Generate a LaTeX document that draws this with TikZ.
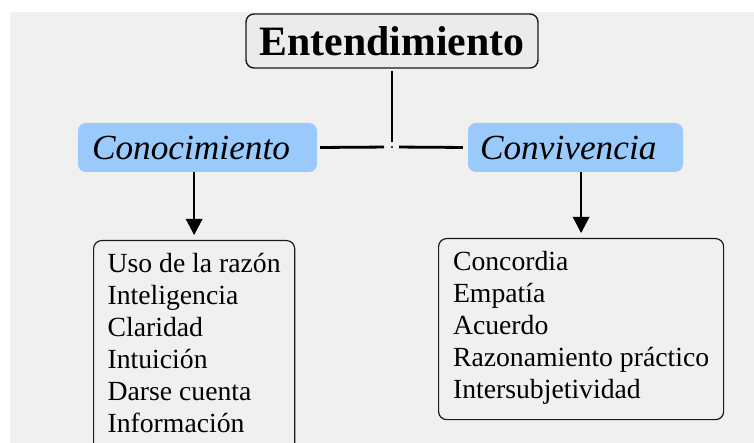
\documentclass[tikz,border=0pt]{standalone}
\usepackage{fontspec}
\setmainfont{Liberation Serif}
\usetikzlibrary{arrows.meta}
\definecolor{bggray}{HTML}{F0F0F0}
\definecolor{topfill}{HTML}{EBEBEB}
\definecolor{bluefill}{HTML}{99CAFB}
\definecolor{edge}{HTML}{1A1A1A}
\tikzset{
  topbox/.style={draw=edge, line width=1.4pt, fill=topfill, rounded corners=8pt,
    minimum width=292pt, minimum height=54pt, inner sep=0pt,
    font=\fontsize{41.8}{48}\selectfont\bfseries},
  catbox/.style={fill=bluefill, rounded corners=8pt, minimum height=49pt,
    inner ysep=0pt, align=left, font=\fontsize{35.3}{40}\selectfont\itshape},
  listbox/.style={draw=edge, line width=1.2pt, rounded corners=8pt,
    anchor=north west, inner xsep=14pt, inner ysep=8pt, align=left,
    font=\fontsize{27.7}{32}\selectfont},
  thickline/.style={line width=2.8pt, draw=black},
  arr/.style={line width=1.3pt, -{Triangle[width=16.5pt,length=16pt]}, shorten >=5pt}
}
\begin{document}
\begin{tikzpicture}[x=1pt,y=-1pt]
\useasboundingbox (0,0) rectangle (754,443);
\fill[bggray] (10,12) rectangle (754,443);

\node[topbox] (ent) at (392,41) {Entendimiento};
\node[catbox, text width=211pt, inner xsep=14pt] (con) at (197.5,147.5) {Conocimiento};
\node[catbox, text width=191pt, inner xsep=12pt] (conv) at (575.5,147.5) {Convivencia};

\node[listbox, minimum width=200pt] (lbox) at (93,240)
  {\rule{0pt}{24pt}Uso de la razón\\Inteligencia\\Claridad\\Intuición\\Darse cuenta\\Información\rule[-14pt]{0pt}{14pt}};
\node[listbox, minimum width=285pt] (rbox) at (438,238)
  {\rule{0pt}{24pt}Concordia\\Empatía\\Acuerdo\\Razonamiento práctico\\Intersubjetividad\rule[-13pt]{0pt}{13pt}};

\coordinate (j) at (392,147);
\draw[thickline, shorten <=2pt, shorten >=5pt] (ent.south) -- (j);
\draw[thickline, shorten <=3pt, shorten >=8pt] (con.east) -- (j);
\draw[thickline, shorten <=5pt, shorten >=7pt] (conv.west) -- (j);
\fill (j) circle (1.2pt);

\draw[arr] (lbox.north |- con.south) -- (lbox.north);
\draw[arr] (rbox.north |- conv.south) -- (rbox.north);
\end{tikzpicture}
\end{document}
